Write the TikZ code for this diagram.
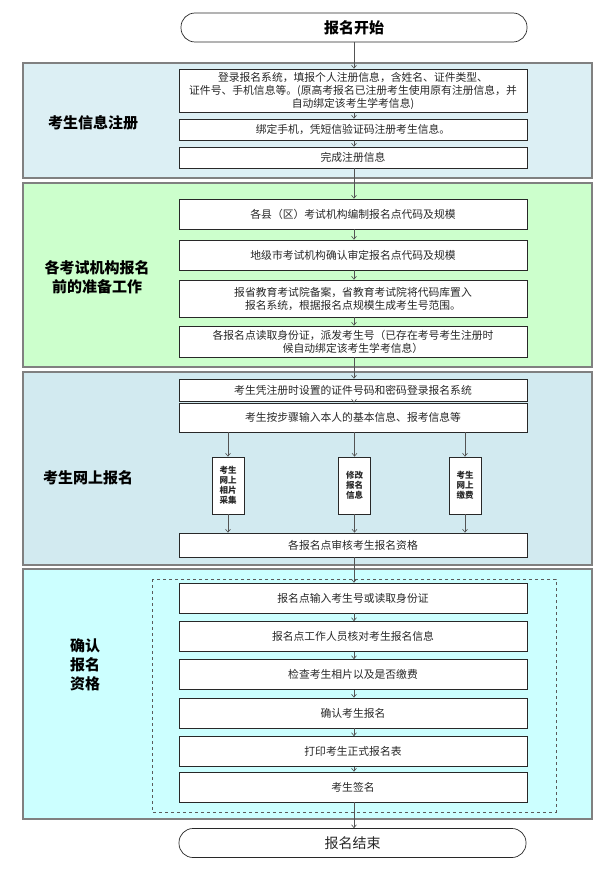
\documentclass[tikz,border=0pt]{standalone}
\usepackage{fontspec}
\setmainfont{Noto Sans CJK SC}
\usepackage{tikz}
\usetikzlibrary{calc,positioning,arrows.meta}

\definecolor{regbg}{RGB}{220,239,244}
\definecolor{prepbg}{RGB}{204,255,204}
\definecolor{netbg}{RGB}{210,234,240}
\definecolor{confbg}{RGB}{204,255,255}
\definecolor{frame}{RGB}{128,128,128}
\definecolor{ink}{RGB}{40,40,40}

\begin{document}
\begin{tikzpicture}[x=1pt,y=-1pt,
		stepbox/.style={draw=ink,line width=0.7pt,fill=white,minimum width=348pt,inner sep=1pt,align=center,font=\fontsize{10.8}{13}\selectfont,text=ink},
		smallbox/.style={draw=ink,line width=0.7pt,fill=white,minimum width=32pt,minimum height=57pt,inner sep=1pt,align=center,font=\fontsize{8.5}{10}\selectfont\bfseries,text=ink},
		endbox/.style={draw=ink,line width=0.7pt,fill=white,rounded corners=14pt,minimum height=29pt,inner sep=1pt},
		section/.style={draw=frame,line width=1.2pt},
		sectlabel/.style={align=center,font=\fontsize{15}{19}\selectfont\bfseries,text=black},
		arr/.style={draw=ink!80,line width=0.6pt,-{Straight Barb[length=3pt,width=5pt]}}]
		\useasboundingbox (0,0) rectangle (605,872);
		% sections
		\draw[section,fill=regbg] (23,63) rectangle (592,178);
		\draw[section,fill=prepbg] (23,183) rectangle (592,367);
		\draw[section,fill=netbg] (23,372) rectangle (592,565);
		\draw[section,fill=confbg] (23,569) rectangle (592,819);
		\draw[frame!70!black,dashed,line width=0.7pt] (152,579) rectangle (556,812);
		\node[sectlabel] (L1) at (93,123) {考生信息注册};
		\node[sectlabel] (L2) at (97,277) {各考试机构报名\\前的准备工作};
		\node[sectlabel] (L3) at (88,478) {考生网上报名};
		\node[sectlabel] (L4) at (85,665) {确认\\报名\\资格};
		% start
		\node[endbox,minimum width=346pt,font=\fontsize{15}{18}\selectfont\bfseries] (start) at (354,27.5) {报名开始};
		% registration
		\node[stepbox,minimum height=43pt] (b1) at (353,90.5) {登录报名系统，填报个人注册信息，含姓名、证件类型、\\证件号、手机信息等。(原高考报名已注册考生使用原有注册信息，并\\自动绑定该考生学考信息)};
		\node[stepbox,minimum height=21pt] (b2) at (353,129.5) {绑定手机，凭短信验证码注册考生信息。};
		\node[stepbox,minimum height=21pt] (b3) at (353,157.5) {完成注册信息};
		% preparation
		\node[stepbox,minimum height=30pt] (c1) at (353,214) {各县（区）考试机构编制报名点代码及规模};
		\node[stepbox,minimum height=30pt] (c2) at (353,255) {地级市考试机构确认审定报名点代码及规模};
		\node[stepbox,minimum height=37pt] (c3) at (353,298.5) {报省教育考试院备案，省教育考试院将代码库置入\\报名系统，根据报名点规模生成考生号范围。};
		\node[stepbox,minimum height=31pt] (c4) at (353,341.5) {各报名点读取身份证，派发考生号（已存在考号考生注册时\\候自动绑定该考生学考信息）};
		% online
		\node[stepbox,minimum height=22pt] (d1) at (353,390) {考生凭注册时设置的证件号码和密码登录报名系统};
		\node[stepbox,minimum height=29pt] (d2) at (353,417.5) {考生按步骤输入本人的基本信息、报考信息等};
		\node[smallbox] (s1) at (228,485.5) {考生\\网上\\相片\\采集};
		\node[smallbox] (s2) at (354.5,485.5) {修改\\报名\\信息};
		\node[smallbox] (s3) at (465,485.5) {考生\\网上\\缴费};
		\node[stepbox,minimum height=24pt] (d3) at (353,545) {各报名点审核考生报名资格};
		% confirmation
		\node[stepbox,minimum height=30pt] (e1) at (353,598) {报名点输入考生号或读取身份证};
		\node[stepbox,minimum height=30pt] (e2) at (353,636.5) {报名点工作人员核对考生报名信息};
		\node[stepbox,minimum height=30pt] (e3) at (353,674.5) {检查考生相片以及是否缴费};
		\node[stepbox,minimum height=30pt] (e4) at (353,713) {确认考生报名};
		\node[stepbox,minimum height=30pt] (e5) at (353,751.5) {打印考生正式报名表};
		\node[stepbox,minimum height=30pt] (e6) at (353,787) {考生签名};
		\node[endbox,minimum width=347pt,font=\fontsize{14}{17}\selectfont,text=ink] (stop) at (352.5,843) {报名结束};
		% connectors
		\foreach \a/\b in {start/b1,b1/b2,b2/b3,b3/c1,c1/c2,c2/c3,c3/c4,c4/d1,d1/d2,d3/e1,e1/e2,e2/e3,e3/e4,e4/e5,e5/e6,e6/stop}
			\draw[arr] (\a.south -| start) -- (\b.north -| start);
		\foreach \s in {s1,s2,s3} {
			\draw[arr] (d2.south -| \s) -- (\s.north);
			\draw[arr] (\s.south) -- (d3.north -| \s);
		}
	\end{tikzpicture}
\end{document}
